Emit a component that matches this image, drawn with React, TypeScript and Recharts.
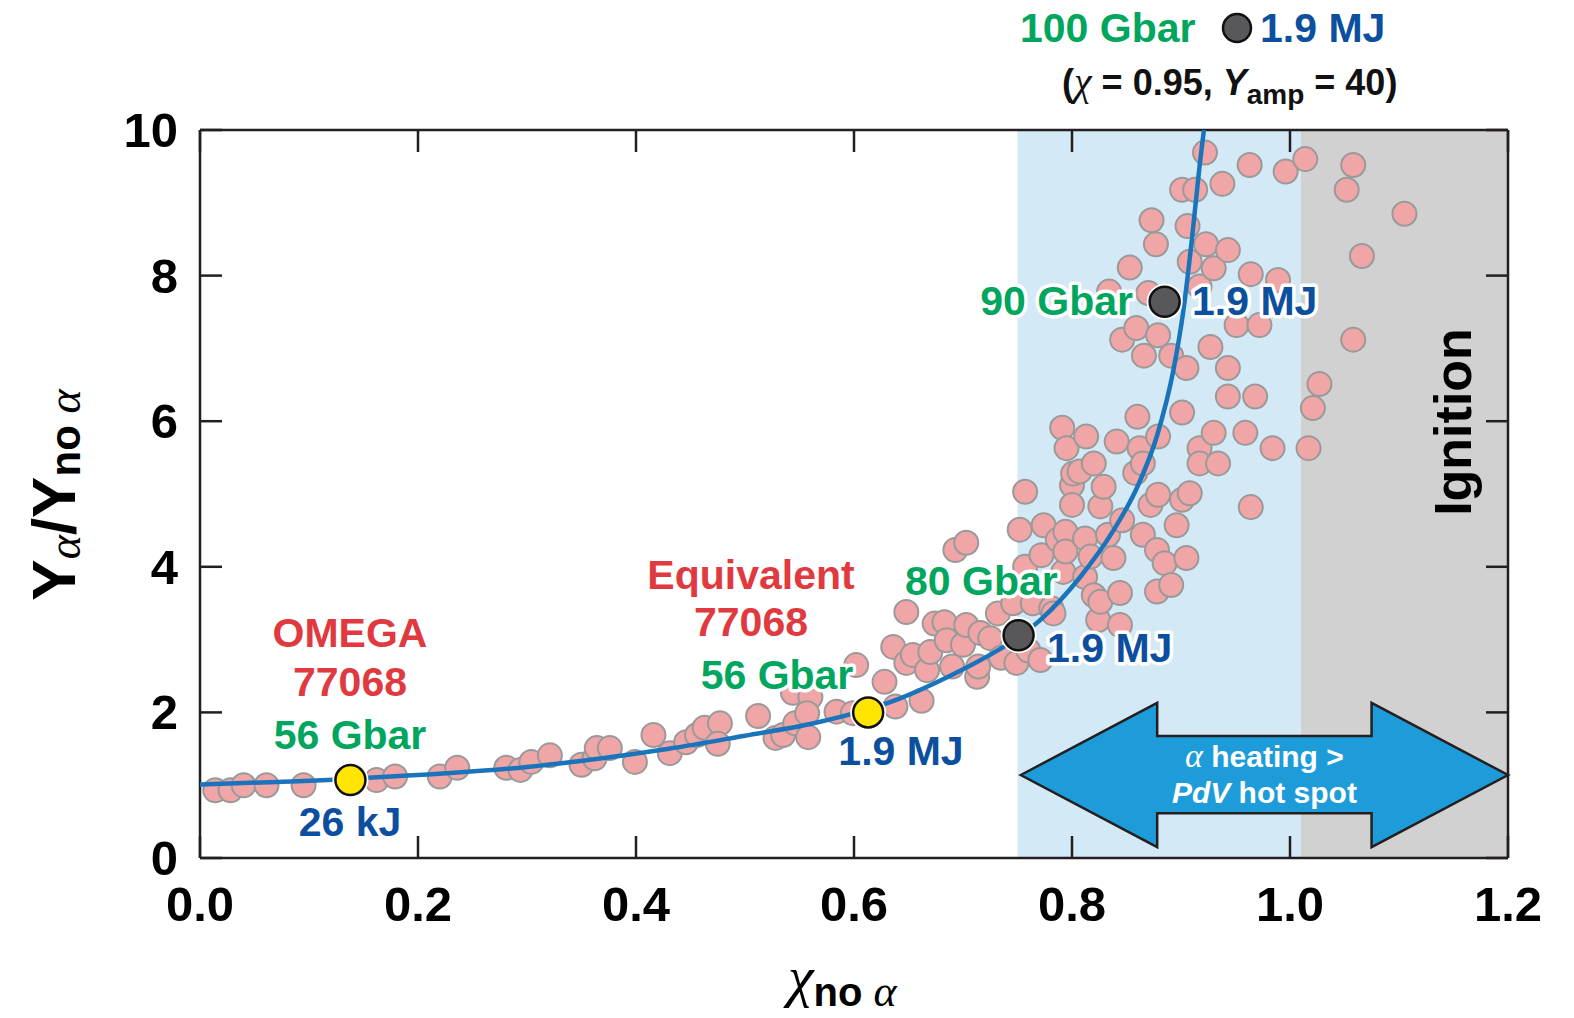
import React from 'react';
import { ComposedChart, XAxis, YAxis, Scatter, Line, ReferenceArea } from 'recharts';

const FONT = '"Liberation Sans", Arial, Helvetica, sans-serif';
const SERIF = '"Liberation Serif", "DejaVu Serif", serif';

// axis ticks
const xTicks = [0, 0.2, 0.4, 0.6, 0.8, 1.0, 1.2];
const xTickLabels = ['0.0', '0.2', '0.4', '0.6', '0.8', '1.0', '1.2'];
const yTicks = [0, 2, 4, 6, 8, 10];
const yTickLabels = ['0', '2', '4', '6', '8', '10'];

// regions
const alphaRegion = [0.75, 1.01];
const ignitionRegion = [1.01, 1.2];
const arrowBox = { x1: 0.753, x2: 1.2, y1: 0.15, y2: 2.13 };

// simulated shots (x_no_alpha, Y_alpha/Y_no_alpha)
const shotsLow: [number, number][] = [
  [0.014, 0.93], [0.028, 0.93], [0.04, 1.0], [0.061, 1.0], [0.095, 1.0], [0.162, 1.07], [0.179, 1.12],
  [0.22, 1.12], [0.236, 1.24], [0.281, 1.24], [0.294, 1.21], [0.304, 1.32], [0.321, 1.41], [0.35, 1.28],
  [0.362, 1.37], [0.364, 1.51], [0.376, 1.51], [0.399, 1.32], [0.416, 1.69], [0.431, 1.44],
  [0.446, 1.59], [0.456, 1.69], [0.463, 1.79], [0.477, 1.85], [0.475, 1.57], [0.512, 1.95], [0.528, 1.65],
  [0.535, 1.69], [0.546, 1.85], [0.544, 2.27], [0.56, 2.21], [0.557, 1.99], [0.558, 1.66], [0.584, 2.01],
  [0.599, 1.99], [0.602, 2.65],
];
const shotsMid: [number, number][] = [
  [0.628, 2.42], [0.636, 2.9], [0.638, 2.08], [0.648, 3.38], [0.648, 2.68], [0.654, 2.79], [0.662, 2.16],
  [0.667, 2.58], [0.67, 2.83], [0.674, 3.22], [0.683, 3.24], [0.685, 2.99], [0.69, 2.63], [0.693, 4.23],
  [0.7, 2.93], [0.703, 3.2], [0.703, 4.33], [0.713, 2.49], [0.714, 2.63], [0.716, 3.09], [0.725, 3.02],
  [0.732, 3.36], [0.735, 2.75], [0.746, 3.5], [0.749, 2.68], [0.752, 4.51], [0.757, 4.0], [0.757, 5.03],
  [0.76, 2.85], [0.764, 3.5], [0.771, 2.72], [0.772, 4.16], [0.774, 4.57], [0.781, 3.43], [0.783, 3.36],
  [0.787, 4.37], [0.791, 5.91], [0.792, 3.93], [0.794, 4.48], [0.794, 4.21], [0.795, 5.63], [0.8, 5.12],
  [0.8, 4.85], [0.801, 5.28],
];
const shotsHigh: [number, number][] = [
  [0.807, 5.31], [0.812, 4.39], [0.812, 3.86], [0.813, 5.79], [0.817, 4.14], [0.82, 5.42], [0.82, 3.61],
  [0.824, 3.27], [0.826, 4.83], [0.826, 3.52], [0.829, 5.1], [0.833, 4.44], [0.834, 7.78], [0.838, 4.12],
  [0.841, 5.72], [0.844, 3.64], [0.844, 3.2], [0.846, 4.64], [0.846, 7.12], [0.853, 8.11], [0.858, 5.29],
  [0.859, 7.28], [0.86, 6.06], [0.862, 5.63], [0.865, 5.42], [0.865, 4.44], [0.866, 6.9], [0.87, 7.76],
  [0.872, 4.85], [0.873, 8.76], [0.877, 8.43], [0.878, 4.23], [0.878, 3.66], [0.879, 5.79], [0.879, 4.99],
  [0.879, 7.18], [0.885, 4.05], [0.891, 6.9], [0.891, 3.75], [0.896, 4.57],
];
const shotsTop: [number, number][] = [
  [0.901, 9.18], [0.901, 6.12], [0.901, 4.92], [0.905, 4.12], [0.905, 6.73], [0.906, 8.68], [0.908, 8.19],
  [0.908, 5.01], [0.913, 9.18], [0.917, 7.85], [0.917, 5.63], [0.917, 5.42], [0.922, 9.69], [0.923, 8.43],
  [0.927, 7.02], [0.93, 8.1], [0.93, 5.84], [0.934, 5.42], [0.938, 9.26], [0.943, 8.35], [0.943, 6.73],
  [0.943, 6.34], [0.951, 7.32], [0.959, 5.84], [0.963, 9.52], [0.964, 8.02], [0.964, 4.82], [0.968, 6.34],
  [0.972, 7.32], [0.984, 5.63], [0.989, 7.94], [0.996, 9.43],
  [1.014, 9.6], [1.017, 5.63], [1.021, 6.18], [1.027, 6.51], [1.052, 9.18], [1.058, 9.52], [1.058, 7.12],
  [1.066, 8.27], [1.105, 8.85],
];

// highlighted shots
const yellowShots: [number, number][] = [[0.138, 1.07], [0.613, 2.0]];
const darkShots: [number, number][] = [[0.751, 3.06], [0.885, 7.64]];

// fitted curve
const fitX = [0, 0.14, 0.3, 0.43, 0.5, 0.56, 0.61, 0.64, 0.685, 0.735, 0.752, 0.771, 0.807, 0.838, 0.86, 0.878, 0.893, 0.902, 0.91, 0.917, 0.921];
const fitY = [1.01, 1.09, 1.25, 1.5, 1.68, 1.84, 2.03, 2.18, 2.48, 2.88, 3.04, 3.27, 3.85, 4.5, 5.1, 5.8, 6.7, 7.5, 8.5, 9.5, 10];

const toPts = (a: [number, number][]) => a.map(([x, y]) => ({ x, y }));
const shotData = toPts([...shotsLow, ...shotsMid, ...shotsHigh, ...shotsTop]);
const yellowData = toPts(yellowShots);
const darkData = toPts(darkShots);
const fitData = fitX.map((x, i) => ({ x, y: fitY[i] }));

const AX = '#231f20';
const TICK = 22;

const BottomTick = (p: any) => {
  const i = xTicks.indexOf(p.payload.value);
  return (
    <g>
      <line x1={p.x} y1={p.y} x2={p.x} y2={p.y - TICK} stroke={AX} strokeWidth={2.5} />
      <text x={p.x} y={p.y + 63} textAnchor="middle" fontFamily={FONT} fontWeight="bold" fontSize={49} fill="#000">
        {xTickLabels[i]}
      </text>
    </g>
  );
};
const TopTick = (p: any) => (
  <line x1={p.x} y1={p.y} x2={p.x} y2={p.y + TICK} stroke={AX} strokeWidth={2.5} />
);
const LeftTick = (p: any) => {
  const i = yTicks.indexOf(p.payload.value);
  return (
    <g>
      <line x1={p.x} y1={p.y} x2={p.x + TICK} y2={p.y} stroke={AX} strokeWidth={2.5} />
      <text x={p.x - 22} y={p.y + 17} textAnchor="end" fontFamily={FONT} fontWeight="bold" fontSize={49} fill="#000">
        {yTickLabels[i]}
      </text>
    </g>
  );
};
const RightTick = (p: any) => (
  <line x1={p.x} y1={p.y} x2={p.x - TICK} y2={p.y} stroke={AX} strokeWidth={2.5} />
);

const PinkDot = (p: any) => (
  <circle cx={p.cx} cy={p.cy} r={12} fill="#f0a5a6" stroke="#9a9a9a" strokeWidth={2} />
);
const YellowDot = (p: any) => (
  <g>
    <circle cx={p.cx} cy={p.cy} r={18} fill="#fff" />
    <circle cx={p.cx} cy={p.cy} r={15} fill="#ffe500" stroke="#111" strokeWidth={2.5} />
  </g>
);
const DarkDot = (p: any) => (
  <g>
    <circle cx={p.cx} cy={p.cy} r={18} fill="#fff" />
    <circle cx={p.cx} cy={p.cy} r={15} fill="#58585a" stroke="#111" strokeWidth={2.5} />
  </g>
);

const ArrowShape = (p: any) => {
  const { x, y, width: w, height: h } = p;
  const hl = w * 0.28;
  const st = h * 0.23;
  const sb = h * 0.766;
  const cy = y + h / 2;
  const pts = [
    [x, cy], [x + hl, y], [x + hl, y + st], [x + w - hl, y + st], [x + w - hl, y], [x + w, cy],
    [x + w - hl, y + h], [x + w - hl, y + sb], [x + hl, y + sb], [x + hl, y + h],
  ].map((q) => q.join(',')).join(' ');
  const cx = x + w / 2;
  return (
    <g>
      <polygon points={pts} fill="#1e9cd9" stroke={AX} strokeWidth={2.5} strokeLinejoin="miter" />
      <text x={cx} y={cy - 8} textAnchor="middle" fontFamily={FONT} fontWeight="bold" fontSize={30} fill="#fff">
        <tspan fontFamily={SERIF} fontStyle="italic" fontWeight="normal" fontSize={34}>α</tspan>
        <tspan> heating &gt;</tspan>
      </text>
      <text x={cx} y={cy + 28} textAnchor="middle" fontFamily={FONT} fontWeight="bold" fontSize={30} fill="#fff">
        <tspan fontStyle="italic">PdV</tspan>
        <tspan> hot spot</tspan>
      </text>
    </g>
  );
};

const RED = '#e03a40';
const GREEN = '#00a65d';
const BLUE = '#0c4f9e';

const Ann = ({ x, y, color, children, anchor = 'middle', size = 41 }: any) => (
  <text
    x={x}
    y={y}
    textAnchor={anchor}
    fontFamily={FONT}
    fontWeight="bold"
    fontSize={size}
    fill={color}
    stroke="#fff"
    strokeWidth={7}
    strokeLinejoin="round"
    paintOrder="stroke"
  >
    {children}
  </text>
);

export default function App() {
  return (
    <div style={{ position: 'absolute', left: 0, top: 0, width: 1574, height: 1018, background: '#fff' }}>
      <ComposedChart width={1574} height={1018} margin={{ top: 100, right: 36, bottom: 100, left: 140 }}>
        <XAxis
          xAxisId="b" type="number" dataKey="x" domain={[0, 1.2]} ticks={xTicks} allowDataOverflow
          height={60} axisLine={{ stroke: AX, strokeWidth: 2.5 }} tickLine={false} tickSize={0} tickMargin={0}
          tick={BottomTick} interval={0}
        />
        <XAxis
          xAxisId="t" orientation="top" type="number" dataKey="x" domain={[0, 1.2]} ticks={xTicks} allowDataOverflow
          height={30} axisLine={{ stroke: AX, strokeWidth: 2.5 }} tickLine={false} tickSize={0} tickMargin={0}
          tick={TopTick} interval={0}
        />
        <YAxis
          yAxisId="l" type="number" dataKey="y" domain={[0, 10]} ticks={yTicks} allowDataOverflow
          width={60} axisLine={{ stroke: AX, strokeWidth: 2.5 }} tickLine={false} tickSize={0} tickMargin={0}
          tick={LeftTick} interval={0}
        />
        <YAxis
          yAxisId="r" orientation="right" type="number" dataKey="y" domain={[0, 10]} ticks={yTicks} allowDataOverflow
          width={30} axisLine={{ stroke: AX, strokeWidth: 2.5 }} tickLine={false} tickSize={0} tickMargin={0}
          tick={RightTick} interval={0}
        />
        <ReferenceArea xAxisId="b" yAxisId="l" x1={alphaRegion[0]} x2={alphaRegion[1]} y1={0} y2={10} fill="#d3eaf6" fillOpacity={1} stroke="none" />
        <ReferenceArea xAxisId="b" yAxisId="l" x1={ignitionRegion[0]} x2={ignitionRegion[1]} y1={0} y2={10} fill="#d1d1d1" fillOpacity={1} stroke="none" />
        <ReferenceArea xAxisId="b" yAxisId="l" x1={arrowBox.x1} x2={arrowBox.x2} y1={arrowBox.y1} y2={arrowBox.y2} shape={ArrowShape} />
        <Scatter xAxisId="b" yAxisId="l" data={shotData} shape={PinkDot} isAnimationActive={false} zIndex={600} />
        <Line
          xAxisId="b" yAxisId="l" data={fitData} dataKey="y" type="monotone" stroke="#1a74bb" strokeWidth={4.5}
          dot={false} activeDot={false} isAnimationActive={false} zIndex={700}
        />
        <Scatter xAxisId="b" yAxisId="l" data={yellowData} shape={YellowDot} isAnimationActive={false} zIndex={800} />
        <Scatter xAxisId="b" yAxisId="l" data={darkData} shape={DarkDot} isAnimationActive={false} zIndex={800} />
      </ComposedChart>
      <svg width={1574} height={1018} style={{ position: 'absolute', left: 0, top: 0, pointerEvents: 'none' }}>
        {/* top legend */}
        <Ann x={1020} y={42} color={GREEN} anchor="start">100 Gbar</Ann>
        <circle cx={1237} cy={28} r={14} fill="#58585a" stroke="#111" strokeWidth={2.5} />
        <Ann x={1260} y={42} color={BLUE} anchor="start">1.9 MJ</Ann>
        <text x={1062} y={95} fontFamily={FONT} fontWeight="bold" fontSize={36} fill="#111">
          <tspan>(</tspan>
          <tspan fontFamily={SERIF} fontStyle="italic" fontWeight="normal" fontSize={40}>χ</tspan>
          <tspan> = 0.95, </tspan>
          <tspan fontStyle="italic">Y</tspan>
          <tspan fontSize={28} dy={9}>amp</tspan>
          <tspan dy={-9}> = 40)</tspan>
        </text>

        {/* OMEGA */}
        <Ann x={350} y={647} color={RED}>OMEGA</Ann>
        <Ann x={350} y={696} color={RED}>77068</Ann>
        <Ann x={350} y={749} color={GREEN}>56 Gbar</Ann>
        <Ann x={350} y={836} color={BLUE}>26 kJ</Ann>

        {/* Equivalent */}
        <Ann x={751} y={589} color={RED}>Equivalent</Ann>
        <Ann x={751} y={636} color={RED}>77068</Ann>
        <Ann x={777} y={689} color={GREEN}>56 Gbar</Ann>
        <Ann x={901} y={765} color={BLUE}>1.9 MJ</Ann>

        {/* 80 Gbar */}
        <Ann x={905} y={595} color={GREEN} anchor="start">80 Gbar</Ann>
        <Ann x={1047} y={662} color={BLUE} anchor="start">1.9 MJ</Ann>

        {/* 90 Gbar */}
        <Ann x={1133} y={315} color={GREEN} anchor="end">90 Gbar</Ann>
        <Ann x={1192} y={315} color={BLUE} anchor="start">1.9 MJ</Ann>

        {/* Ignition */}
        <text transform="translate(1471,422) rotate(-90)" textAnchor="middle" fontFamily={FONT} fontWeight="bold" fontSize={52} fill="#000">
          Ignition
        </text>

        {/* y axis label */}
        <text transform="translate(75,495) rotate(-90)" textAnchor="middle" fontFamily={FONT} fontWeight="bold" fontSize={62} fill="#000">
          <tspan>Y</tspan>
          <tspan fontFamily={SERIF} fontStyle="italic" fontWeight="normal" fontSize={46} dy={5}>α</tspan>
          <tspan dy={-5}>/Y</tspan>
          <tspan fontSize={42} dy={5}>no </tspan>
          <tspan fontFamily={SERIF} fontStyle="italic" fontWeight="normal" fontSize={46}>α</tspan>
        </text>

        {/* x axis label */}
        <text x={788} y={996} fontFamily={SERIF} fontStyle="italic" fontSize={58} fill="#000">
          <tspan>χ</tspan>
          <tspan fontFamily={FONT} fontStyle="normal" fontWeight="bold" fontSize={40} dy={10}>no </tspan>
          <tspan fontSize={44}>α</tspan>
        </text>
      </svg>
    </div>
  );
}
